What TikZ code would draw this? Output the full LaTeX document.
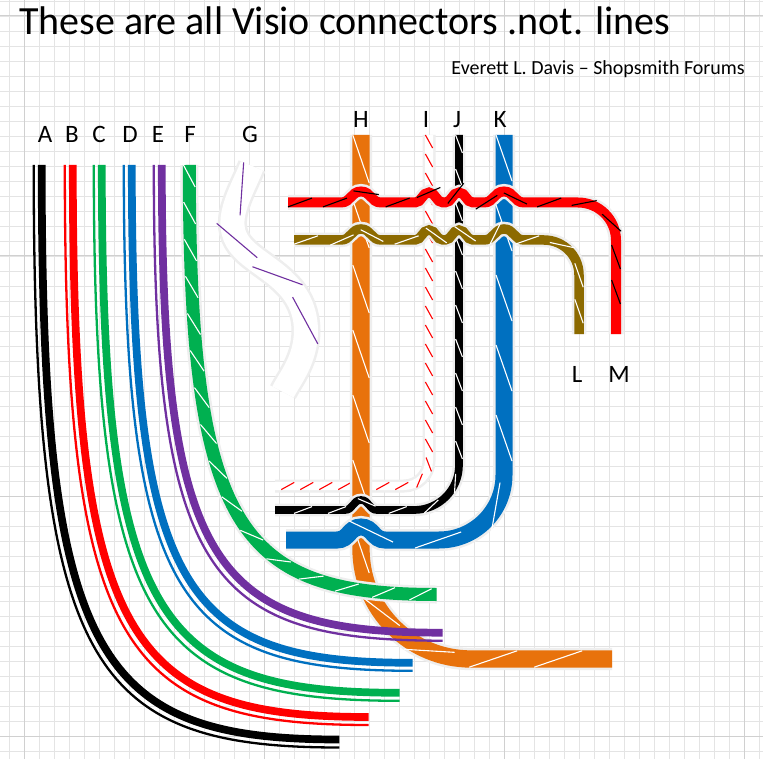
\documentclass[tikz,border=0pt]{standalone}
\usepackage{fontspec}
\setmainfont{Carlito}
\usetikzlibrary{decorations.markings}

\definecolor{vorange}{RGB}{232,114,12}
\definecolor{vblue}{RGB}{0,112,192}
\definecolor{vgreen}{RGB}{0,176,80}
\definecolor{vpurple}{RGB}{112,48,160}
\definecolor{vbrown}{RGB}{140,106,0}
\definecolor{halo}{RGB}{238,238,238}
\definecolor{gridminor}{RGB}{228,228,228}
\definecolor{gridmajor}{RGB}{208,208,208}

%% a line jump: x, y, half width, height
\newcommand{\hop}[4]{-- ({#1-(#3)},#2) .. controls ({#1-(#3)/2},#2) and ({#1-(#3)/2},{#2-#4}) .. (#1,{#2-#4}) .. controls ({#1+(#3)/2},{#2-#4}) and ({#1+(#3)/2},#2) .. ({#1+(#3)},#2)}

\tikzset{
	wire/.style n args={2}{preaction={draw=halo, line width=#2+5}, draw=#1, line width=#2},
	%% step, length, half width, colour
	stripe/.style n args={4}{postaction={decorate, decoration={markings,
		mark=between positions 0.5*#2pt and -0.5*#2pt step #1pt with {\draw[#4, line width=1.1pt] (-0.5*#2pt,-#3pt) -- (0.5*#2pt,#3pt);}}}},
	lbl/.style={anchor=base, inner sep=0, font=\fontsize{25}{25}\selectfont}
}

\begin{document}
\begin{tikzpicture}[x=1pt, y=-1pt]

	\useasboundingbox (0,0) rectangle (763,759);
	\fill[white] (0,0) rectangle (763,759);

	%% grid
	\foreach \k in {0,...,50} {
		\draw[gridminor, line width=0.8] ({9.3+15*\k},0) -- ({9.3+15*\k},759);
		\draw[gridminor, line width=0.8] (0,{1+15*\k}) -- (763,{1+15*\k});
	}
	\foreach \k in {0,...,3} {
		\draw[gridmajor, line width=1] ({24.3+240*\k},0) -- ({24.3+240*\k},759);
		\draw[gridmajor, line width=1] (0,{16+240*\k}) -- (763,{16+240*\k});
	}

	%% titles
	\node[anchor=base west, inner sep=0, font=\fontsize{40}{40}\selectfont] (title) at (19,34.3) {These are all Visio connectors .not. lines};
	\node[anchor=base east, inner sep=0, font=\fontsize{20}{20}\selectfont] (credit) at (745,74.5) {Everett L. Davis – Shopsmith Forums};

	%% labels
	\foreach \t/\x in {A/45, B/72, C/99, D/130, E/158, F/190, G/250}
		\node[lbl] (lab\t) at (\x,143) {\t};
	\foreach \t/\x in {H/361, I/426, J/457, K/500}
		\node[lbl] (lab\t) at (\x,128) {\t};
	\foreach \t/\x in {L/577, M/619}
		\node[lbl] (lab\t) at (\x,382) {\t};

	%% I goes under H
	\draw[wire={white}{8}, stripe={19}{13}{3.6}{red}] (429,135) -- (429,461) .. controls (429,474.8) and (417.8,486) .. (404,486) -- (275,486);

	%% H
	\draw[wire={vorange}{17.3}, stripe={65}{48}{8.2}{white}] (361,135) -- (361,549) .. controls (361,609.8) and (410.2,659) .. (471,659) -- (612,659);

	%% J and K jump over H
	\draw[wire={black}{7.7}, stripe={34}{18}{3.4}{white}] (459,135) -- (459,465) .. controls (459,489.9) and (438.9,510) .. (414,510) \hop{361}{510}{-16}{10} -- (275,510);
	\draw[wire={vblue}{17}, stripe={70}{46}{8}{white}] (504,135) -- (504,475) .. controls (504,510.9) and (474.9,540) .. (439,540) \hop{361}{540}{-24}{13} -- (286,540);

	%% L and M
	\draw[wire={vbrown}{9.5}, stripe={36}{24}{4.2}{white}] (294,240) \hop{361}{240}{20}{11} \hop{429}{240}{14}{10} \hop{459}{240}{14}{10} \hop{504}{240}{20}{11} -- (544,240) .. controls (563.3,240) and (579,255.7) .. (579,275) -- (579,334);
	\draw[wire={red}{10}, stripe={35}{24}{4.4}{black}] (288,202.5) \hop{361}{202.5}{20}{11} \hop{429}{202.5}{14}{10} \hop{459}{202.5}{14}{10} \hop{504}{202.5}{20}{11} -- (578,202.5) .. controls (599,202.5) and (616,219.5) .. (616,240.5) -- (616,334);

	%% G
	\draw[wire={white}{24}, stripe={54}{50}{9}{vpurple}] (252,166) .. controls (240,195) and (222,222) .. (240,245) .. controls (258,268) and (305,280) .. (306,330) .. controls (306,360) and (290,378) .. (283,392);

	%% F
	\draw[wire={vgreen}{13}, stripe={37}{22}{5.8}{white}] (189.3,165) .. controls (189.3,532) and (240,594.5) .. (436.7,594.5);

	%% A to E
	\foreach \col/\xs/\xe/\ye in {black/41.7/339.3/739.5, red/72.8/368.7/717, vgreen/101.8/399.7/692.8, vblue/131.8/412.7/662.8, vpurple/161.8/442.7/632.7} {
		\pgfmathsetmacro\cy{165+0.86*(\ye-165)}
		\pgfmathsetmacro\cx{\xs+0.18*(\xe-\xs)}
		\draw[\col, line width=7.7] (\xs,165) .. controls (\xs,\cy) and (\cx,\ye) .. (\xe,\ye);
		\pgfmathsetmacro\xa{\xs-8}
		\pgfmathsetmacro\yb{\ye+8}
		\pgfmathsetmacro\cya{165+0.86*(\yb-165)}
		\pgfmathsetmacro\cxa{\xa+0.18*(\xe-\xa)}
		\draw[\col, line width=2.3] (\xa,165) .. controls (\xa,\cya) and (\cxa,\yb) .. (\xe,\yb);
	}

\end{tikzpicture}
\end{document}
